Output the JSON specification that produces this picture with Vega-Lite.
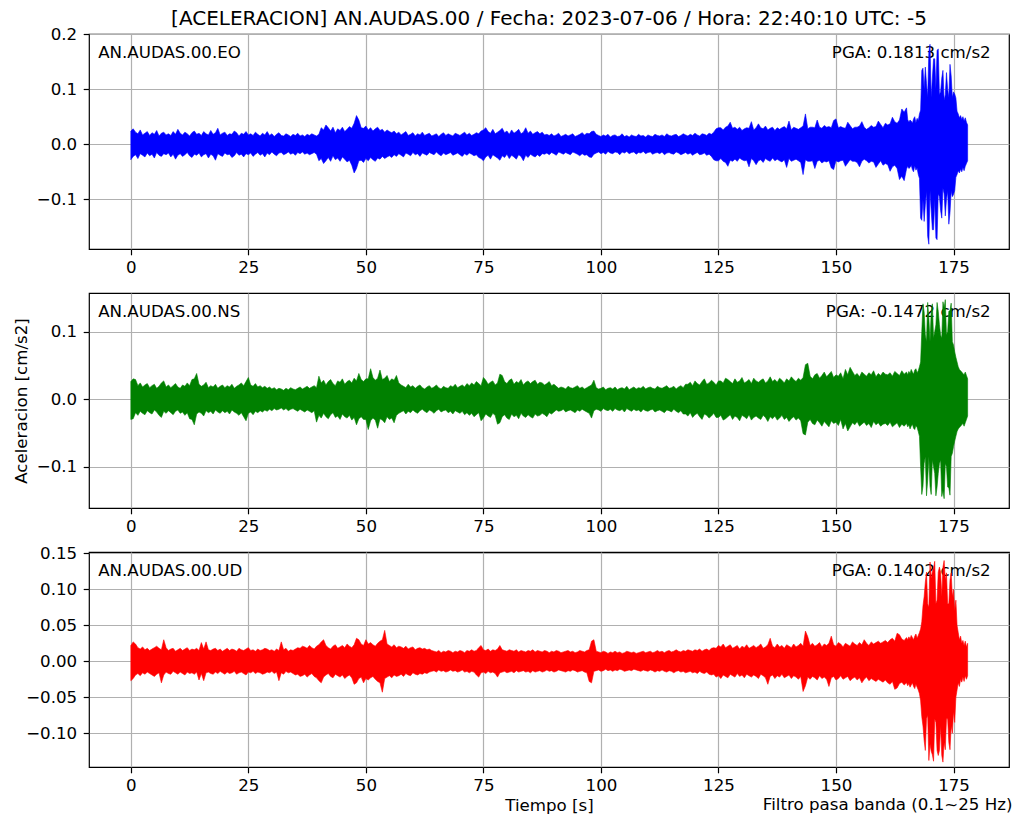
{
"$schema":"https://vega.github.io/schema/vega-lite/v6.json",
"background":"white",
"padding":{"left":12,"top":8,"right":0,"bottom":0},
"config":{
 "font":"DejaVu Sans",
 "view":{"stroke":"#000000","strokeWidth":1.2},
 "axis":{"domain":false,"grid":true,"gridColor":"#b0b0b0","gridWidth":1.2,"gridOpacity":1,"tickColor":"#000000","tickWidth":1.2,"tickSize":5.8,"labelFont":"DejaVu Sans","labelFontSize":16.67,"labelColor":"#000000","titleFont":"DejaVu Sans","titleFontSize":16.67,"titleFontWeight":"normal","titleColor":"#000000","labelFlush":false,"labelOverlap":false},
 "axisX":{"labelPadding":4.2},
 "axisY":{"labelPadding":6.5},
 "text":{"font":"DejaVu Sans"}
},
"datasets":{"wave":[
{"t":0,"eh":0.024,"el":-0.028,"nh":0.026,"nl":-0.030,"uh":0.022,"ul":-0.027},
{"t":0.5,"eh":0.028,"el":-0.022,"nh":0.030,"nl":-0.029,"uh":0.027,"ul":-0.024},
{"t":1,"eh":0.022,"el":-0.019,"nh":0.029,"nl":-0.020,"uh":0.024,"ul":-0.019},
{"t":1.5,"eh":0.019,"el":-0.026,"nh":0.020,"nl":-0.024,"uh":0.019,"ul":-0.017},
{"t":2,"eh":0.026,"el":-0.017,"nh":0.024,"nl":-0.018,"uh":0.017,"ul":-0.020},
{"t":2.5,"eh":0.017,"el":-0.020,"nh":0.018,"nl":-0.021,"uh":0.020,"ul":-0.016},
{"t":3,"eh":0.020,"el":-0.023,"nh":0.021,"nl":-0.023,"uh":0.016,"ul":-0.018},
{"t":3.5,"eh":0.023,"el":-0.016,"nh":0.023,"nl":-0.017,"uh":0.018,"ul":-0.015},
{"t":4,"eh":0.016,"el":-0.021,"nh":0.017,"nl":-0.020,"uh":0.015,"ul":-0.017},
{"t":4.5,"eh":0.021,"el":-0.018,"nh":0.020,"nl":-0.022,"uh":0.017,"ul":-0.019},
{"t":5,"eh":0.018,"el":-0.025,"nh":0.022,"nl":-0.016,"uh":0.019,"ul":-0.021},
{"t":5.5,"eh":0.025,"el":-0.015,"nh":0.016,"nl":-0.019,"uh":0.021,"ul":-0.018},
{"t":6,"eh":0.015,"el":-0.020,"nh":0.019,"nl":-0.024,"uh":0.018,"ul":-0.016},
{"t":6.5,"eh":0.020,"el":-0.022,"nh":0.024,"nl":-0.027,"uh":0.016,"ul":-0.030},
{"t":7,"eh":0.022,"el":-0.017,"nh":0.027,"nl":-0.018,"uh":0.030,"ul":-0.019},
{"t":7.5,"eh":0.017,"el":-0.019,"nh":0.018,"nl":-0.021,"uh":0.019,"ul":-0.015},
{"t":8,"eh":0.019,"el":-0.016,"nh":0.021,"nl":-0.017,"uh":0.015,"ul":-0.017},
{"t":8.5,"eh":0.016,"el":-0.023,"nh":0.017,"nl":-0.020,"uh":0.017,"ul":-0.018},
{"t":9,"eh":0.023,"el":-0.018,"nh":0.020,"nl":-0.023,"uh":0.018,"ul":-0.014},
{"t":9.5,"eh":0.018,"el":-0.027,"nh":0.023,"nl":-0.018,"uh":0.014,"ul":-0.016},
{"t":10,"eh":0.027,"el":-0.020,"nh":0.018,"nl":-0.016,"uh":0.016,"ul":-0.018},
{"t":10.5,"eh":0.020,"el":-0.017,"nh":0.016,"nl":-0.021,"uh":0.018,"ul":-0.015},
{"t":11,"eh":0.017,"el":-0.022,"nh":0.021,"nl":-0.019,"uh":0.015,"ul":-0.017},
{"t":11.5,"eh":0.022,"el":-0.019,"nh":0.019,"nl":-0.024,"uh":0.017,"ul":-0.019},
{"t":12,"eh":0.019,"el":-0.015,"nh":0.024,"nl":-0.020,"uh":0.019,"ul":-0.015},
{"t":12.5,"eh":0.015,"el":-0.021,"nh":0.020,"nl":-0.029,"uh":0.015,"ul":-0.017},
{"t":13,"eh":0.021,"el":-0.024,"nh":0.029,"nl":-0.030,"uh":0.017,"ul":-0.016},
{"t":13.5,"eh":0.024,"el":-0.018,"nh":0.030,"nl":-0.038,"uh":0.016,"ul":-0.018},
{"t":14,"eh":0.018,"el":-0.020,"nh":0.038,"nl":-0.022,"uh":0.018,"ul":-0.015},
{"t":14.5,"eh":0.020,"el":-0.016,"nh":0.022,"nl":-0.019,"uh":0.015,"ul":-0.026},
{"t":15,"eh":0.016,"el":-0.023,"nh":0.019,"nl":-0.021,"uh":0.026,"ul":-0.017},
{"t":15.5,"eh":0.023,"el":-0.019,"nh":0.021,"nl":-0.025,"uh":0.017,"ul":-0.027},
{"t":16,"eh":0.019,"el":-0.017,"nh":0.025,"nl":-0.017,"uh":0.027,"ul":-0.016},
{"t":16.5,"eh":0.017,"el":-0.025,"nh":0.017,"nl":-0.020,"uh":0.016,"ul":-0.015},
{"t":17,"eh":0.025,"el":-0.018,"nh":0.020,"nl":-0.018,"uh":0.015,"ul":-0.017},
{"t":17.5,"eh":0.018,"el":-0.021,"nh":0.018,"nl":-0.022,"uh":0.017,"ul":-0.018},
{"t":18,"eh":0.021,"el":-0.029,"nh":0.022,"nl":-0.016,"uh":0.018,"ul":-0.015},
{"t":18.5,"eh":0.029,"el":-0.017,"nh":0.016,"nl":-0.019,"uh":0.015,"ul":-0.017},
{"t":19,"eh":0.017,"el":-0.020,"nh":0.019,"nl":-0.021,"uh":0.017,"ul":-0.014},
{"t":19.5,"eh":0.020,"el":-0.022,"nh":0.021,"nl":-0.017,"uh":0.014,"ul":-0.016},
{"t":20,"eh":0.022,"el":-0.016,"nh":0.017,"nl":-0.020,"uh":0.016,"ul":-0.018},
{"t":20.5,"eh":0.016,"el":-0.019,"nh":0.020,"nl":-0.018,"uh":0.018,"ul":-0.015},
{"t":21,"eh":0.019,"el":-0.018,"nh":0.018,"nl":-0.022,"uh":0.015,"ul":-0.017},
{"t":21.5,"eh":0.018,"el":-0.024,"nh":0.022,"nl":-0.016,"uh":0.017,"ul":-0.016},
{"t":22,"eh":0.024,"el":-0.021,"nh":0.016,"nl":-0.019,"uh":0.016,"ul":-0.014},
{"t":22.5,"eh":0.021,"el":-0.015,"nh":0.019,"nl":-0.021,"uh":0.014,"ul":-0.018},
{"t":23,"eh":0.015,"el":-0.020,"nh":0.021,"nl":-0.024,"uh":0.018,"ul":-0.016},
{"t":23.5,"eh":0.020,"el":-0.018,"nh":0.024,"nl":-0.020,"uh":0.016,"ul":-0.015},
{"t":24,"eh":0.018,"el":-0.023,"nh":0.020,"nl":-0.026,"uh":0.015,"ul":-0.017},
{"t":24.5,"eh":0.023,"el":-0.017,"nh":0.026,"nl":-0.032,"uh":0.017,"ul":-0.019},
{"t":25,"eh":0.017,"el":-0.019,"nh":0.032,"nl":-0.021,"uh":0.019,"ul":-0.015},
{"t":25.5,"eh":0.019,"el":-0.016,"nh":0.021,"nl":-0.019,"uh":0.015,"ul":-0.016},
{"t":26,"eh":0.016,"el":-0.022,"nh":0.019,"nl":-0.023,"uh":0.016,"ul":-0.014},
{"t":26.5,"eh":0.022,"el":-0.018,"nh":0.023,"nl":-0.018,"uh":0.014,"ul":-0.017},
{"t":27,"eh":0.018,"el":-0.015,"nh":0.018,"nl":-0.020,"uh":0.017,"ul":-0.015},
{"t":27.5,"eh":0.015,"el":-0.020,"nh":0.020,"nl":-0.017,"uh":0.015,"ul":-0.016},
{"t":28,"eh":0.020,"el":-0.017,"nh":0.017,"nl":-0.019,"uh":0.016,"ul":-0.018},
{"t":28.5,"eh":0.017,"el":-0.023,"nh":0.019,"nl":-0.016,"uh":0.018,"ul":-0.017},
{"t":29,"eh":0.023,"el":-0.016,"nh":0.016,"nl":-0.018,"uh":0.017,"ul":-0.015},
{"t":29.5,"eh":0.016,"el":-0.019,"nh":0.018,"nl":-0.015,"uh":0.015,"ul":-0.016},
{"t":30,"eh":0.019,"el":-0.014,"nh":0.015,"nl":-0.017,"uh":0.016,"ul":-0.014},
{"t":30.5,"eh":0.014,"el":-0.018,"nh":0.017,"nl":-0.014,"uh":0.014,"ul":-0.017},
{"t":31,"eh":0.018,"el":-0.021,"nh":0.014,"nl":-0.016,"uh":0.017,"ul":-0.015},
{"t":31.5,"eh":0.021,"el":-0.016,"nh":0.016,"nl":-0.015,"uh":0.015,"ul":-0.027},
{"t":32,"eh":0.016,"el":-0.015,"nh":0.015,"nl":-0.013,"uh":0.027,"ul":-0.016},
{"t":32.5,"eh":0.015,"el":-0.019,"nh":0.013,"nl":-0.016,"uh":0.016,"ul":-0.018},
{"t":33,"eh":0.019,"el":-0.017,"nh":0.016,"nl":-0.014,"uh":0.018,"ul":-0.014},
{"t":33.5,"eh":0.017,"el":-0.014,"nh":0.014,"nl":-0.017,"uh":0.014,"ul":-0.016},
{"t":34,"eh":0.014,"el":-0.018,"nh":0.017,"nl":-0.015,"uh":0.016,"ul":-0.015},
{"t":34.5,"eh":0.018,"el":-0.016,"nh":0.015,"nl":-0.014,"uh":0.015,"ul":-0.017},
{"t":35,"eh":0.016,"el":-0.020,"nh":0.014,"nl":-0.016,"uh":0.017,"ul":-0.019},
{"t":35.5,"eh":0.020,"el":-0.015,"nh":0.016,"nl":-0.018,"uh":0.019,"ul":-0.018},
{"t":36,"eh":0.015,"el":-0.017,"nh":0.018,"nl":-0.015,"uh":0.018,"ul":-0.021},
{"t":36.5,"eh":0.017,"el":-0.014,"nh":0.015,"nl":-0.017,"uh":0.021,"ul":-0.020},
{"t":37,"eh":0.014,"el":-0.018,"nh":0.017,"nl":-0.019,"uh":0.020,"ul":-0.018},
{"t":37.5,"eh":0.018,"el":-0.016,"nh":0.019,"nl":-0.016,"uh":0.018,"ul":-0.022},
{"t":38,"eh":0.016,"el":-0.019,"nh":0.016,"nl":-0.018,"uh":0.022,"ul":-0.019},
{"t":38.5,"eh":0.019,"el":-0.017,"nh":0.018,"nl":-0.020,"uh":0.019,"ul":-0.017},
{"t":39,"eh":0.017,"el":-0.015,"nh":0.020,"nl":-0.017,"uh":0.017,"ul":-0.021},
{"t":39.5,"eh":0.015,"el":-0.018,"nh":0.017,"nl":-0.034,"uh":0.021,"ul":-0.023},
{"t":40,"eh":0.018,"el":-0.030,"nh":0.034,"nl":-0.024,"uh":0.023,"ul":-0.027},
{"t":40.5,"eh":0.030,"el":-0.026,"nh":0.024,"nl":-0.028,"uh":0.027,"ul":-0.030},
{"t":41,"eh":0.026,"el":-0.035,"nh":0.028,"nl":-0.021,"uh":0.030,"ul":-0.022},
{"t":41.5,"eh":0.035,"el":-0.030,"nh":0.021,"nl":-0.026,"uh":0.022,"ul":-0.019},
{"t":42,"eh":0.030,"el":-0.024,"nh":0.026,"nl":-0.029,"uh":0.019,"ul":-0.017},
{"t":42.5,"eh":0.024,"el":-0.031,"nh":0.029,"nl":-0.023,"uh":0.017,"ul":-0.021},
{"t":43,"eh":0.031,"el":-0.021,"nh":0.023,"nl":-0.020,"uh":0.021,"ul":-0.023},
{"t":43.5,"eh":0.021,"el":-0.028,"nh":0.020,"nl":-0.027,"uh":0.023,"ul":-0.018},
{"t":44,"eh":0.028,"el":-0.025,"nh":0.027,"nl":-0.025,"uh":0.018,"ul":-0.020},
{"t":44.5,"eh":0.025,"el":-0.031,"nh":0.025,"nl":-0.030,"uh":0.020,"ul":-0.022},
{"t":45,"eh":0.031,"el":-0.023,"nh":0.030,"nl":-0.022,"uh":0.022,"ul":-0.019},
{"t":45.5,"eh":0.023,"el":-0.027,"nh":0.022,"nl":-0.026,"uh":0.019,"ul":-0.024},
{"t":46,"eh":0.027,"el":-0.032,"nh":0.026,"nl":-0.028,"uh":0.024,"ul":-0.021},
{"t":46.5,"eh":0.032,"el":-0.029,"nh":0.028,"nl":-0.024,"uh":0.021,"ul":-0.019},
{"t":47,"eh":0.029,"el":-0.038,"nh":0.024,"nl":-0.031,"uh":0.019,"ul":-0.023},
{"t":47.5,"eh":0.038,"el":-0.052,"nh":0.031,"nl":-0.027,"uh":0.023,"ul":-0.032},
{"t":48,"eh":0.052,"el":-0.044,"nh":0.027,"nl":-0.038,"uh":0.032,"ul":-0.030},
{"t":48.5,"eh":0.044,"el":-0.030,"nh":0.038,"nl":-0.029,"uh":0.030,"ul":-0.024},
{"t":49,"eh":0.030,"el":-0.029,"nh":0.029,"nl":-0.026,"uh":0.024,"ul":-0.022},
{"t":49.5,"eh":0.029,"el":-0.033,"nh":0.026,"nl":-0.030,"uh":0.022,"ul":-0.030},
{"t":50,"eh":0.033,"el":-0.026,"nh":0.030,"nl":-0.030,"uh":0.030,"ul":-0.024},
{"t":50.5,"eh":0.026,"el":-0.030,"nh":0.030,"nl":-0.045,"uh":0.024,"ul":-0.026},
{"t":51,"eh":0.030,"el":-0.024,"nh":0.045,"nl":-0.032,"uh":0.026,"ul":-0.023},
{"t":51.5,"eh":0.024,"el":-0.028,"nh":0.032,"nl":-0.028,"uh":0.023,"ul":-0.021},
{"t":52,"eh":0.028,"el":-0.031,"nh":0.028,"nl":-0.031,"uh":0.021,"ul":-0.025},
{"t":52.5,"eh":0.031,"el":-0.025,"nh":0.031,"nl":-0.043,"uh":0.025,"ul":-0.028},
{"t":53,"eh":0.025,"el":-0.027,"nh":0.043,"nl":-0.029,"uh":0.028,"ul":-0.030},
{"t":53.5,"eh":0.027,"el":-0.022,"nh":0.029,"nl":-0.031,"uh":0.030,"ul":-0.043},
{"t":54,"eh":0.022,"el":-0.026,"nh":0.031,"nl":-0.035,"uh":0.043,"ul":-0.024},
{"t":54.5,"eh":0.026,"el":-0.023,"nh":0.035,"nl":-0.026,"uh":0.024,"ul":-0.022},
{"t":55,"eh":0.023,"el":-0.021,"nh":0.026,"nl":-0.030,"uh":0.022,"ul":-0.020},
{"t":55.5,"eh":0.021,"el":-0.024,"nh":0.030,"nl":-0.028,"uh":0.020,"ul":-0.023},
{"t":56,"eh":0.024,"el":-0.019,"nh":0.028,"nl":-0.035,"uh":0.023,"ul":-0.019},
{"t":56.5,"eh":0.019,"el":-0.022,"nh":0.035,"nl":-0.024,"uh":0.019,"ul":-0.021},
{"t":57,"eh":0.022,"el":-0.017,"nh":0.024,"nl":-0.021,"uh":0.021,"ul":-0.020},
{"t":57.5,"eh":0.017,"el":-0.020,"nh":0.021,"nl":-0.019,"uh":0.020,"ul":-0.018},
{"t":58,"eh":0.020,"el":-0.023,"nh":0.019,"nl":-0.017,"uh":0.018,"ul":-0.021},
{"t":58.5,"eh":0.023,"el":-0.016,"nh":0.017,"nl":-0.022,"uh":0.021,"ul":-0.017},
{"t":59,"eh":0.016,"el":-0.018,"nh":0.022,"nl":-0.018,"uh":0.017,"ul":-0.019},
{"t":59.5,"eh":0.018,"el":-0.021,"nh":0.018,"nl":-0.020,"uh":0.019,"ul":-0.020},
{"t":60,"eh":0.021,"el":-0.015,"nh":0.020,"nl":-0.016,"uh":0.020,"ul":-0.016},
{"t":60.5,"eh":0.015,"el":-0.019,"nh":0.016,"nl":-0.019,"uh":0.016,"ul":-0.018},
{"t":61,"eh":0.019,"el":-0.017,"nh":0.019,"nl":-0.021,"uh":0.018,"ul":-0.019},
{"t":61.5,"eh":0.017,"el":-0.022,"nh":0.021,"nl":-0.017,"uh":0.019,"ul":-0.017},
{"t":62,"eh":0.022,"el":-0.016,"nh":0.017,"nl":-0.015,"uh":0.017,"ul":-0.018},
{"t":62.5,"eh":0.016,"el":-0.018,"nh":0.015,"nl":-0.018,"uh":0.018,"ul":-0.016},
{"t":63,"eh":0.018,"el":-0.020,"nh":0.018,"nl":-0.020,"uh":0.016,"ul":-0.017},
{"t":63.5,"eh":0.020,"el":-0.015,"nh":0.020,"nl":-0.016,"uh":0.017,"ul":-0.015},
{"t":64,"eh":0.015,"el":-0.017,"nh":0.016,"nl":-0.018,"uh":0.015,"ul":-0.014},
{"t":64.5,"eh":0.017,"el":-0.019,"nh":0.018,"nl":-0.021,"uh":0.014,"ul":-0.013},
{"t":65,"eh":0.019,"el":-0.014,"nh":0.021,"nl":-0.017,"uh":0.013,"ul":-0.015},
{"t":65.5,"eh":0.014,"el":-0.018,"nh":0.017,"nl":-0.015,"uh":0.015,"ul":-0.012},
{"t":66,"eh":0.018,"el":-0.021,"nh":0.015,"nl":-0.019,"uh":0.012,"ul":-0.014},
{"t":66.5,"eh":0.021,"el":-0.016,"nh":0.019,"nl":-0.017,"uh":0.014,"ul":-0.013},
{"t":67,"eh":0.016,"el":-0.019,"nh":0.017,"nl":-0.016,"uh":0.013,"ul":-0.015},
{"t":67.5,"eh":0.019,"el":-0.017,"nh":0.016,"nl":-0.020,"uh":0.015,"ul":-0.014},
{"t":68,"eh":0.017,"el":-0.015,"nh":0.020,"nl":-0.018,"uh":0.014,"ul":-0.012},
{"t":68.5,"eh":0.015,"el":-0.020,"nh":0.018,"nl":-0.022,"uh":0.012,"ul":-0.014},
{"t":69,"eh":0.020,"el":-0.018,"nh":0.022,"nl":-0.017,"uh":0.014,"ul":-0.013},
{"t":69.5,"eh":0.018,"el":-0.016,"nh":0.017,"nl":-0.019,"uh":0.013,"ul":-0.015},
{"t":70,"eh":0.016,"el":-0.019,"nh":0.019,"nl":-0.021,"uh":0.015,"ul":-0.014},
{"t":70.5,"eh":0.019,"el":-0.022,"nh":0.021,"nl":-0.018,"uh":0.014,"ul":-0.012},
{"t":71,"eh":0.022,"el":-0.017,"nh":0.018,"nl":-0.023,"uh":0.012,"ul":-0.015},
{"t":71.5,"eh":0.017,"el":-0.020,"nh":0.023,"nl":-0.020,"uh":0.015,"ul":-0.014},
{"t":72,"eh":0.020,"el":-0.016,"nh":0.020,"nl":-0.024,"uh":0.014,"ul":-0.016},
{"t":72.5,"eh":0.016,"el":-0.018,"nh":0.024,"nl":-0.021,"uh":0.016,"ul":-0.014},
{"t":73,"eh":0.018,"el":-0.021,"nh":0.021,"nl":-0.026,"uh":0.014,"ul":-0.015},
{"t":73.5,"eh":0.021,"el":-0.019,"nh":0.026,"nl":-0.023,"uh":0.015,"ul":-0.019},
{"t":74,"eh":0.019,"el":-0.024,"nh":0.023,"nl":-0.020,"uh":0.019,"ul":-0.022},
{"t":74.5,"eh":0.024,"el":-0.026,"nh":0.020,"nl":-0.032,"uh":0.022,"ul":-0.016},
{"t":75,"eh":0.026,"el":-0.030,"nh":0.032,"nl":-0.028,"uh":0.016,"ul":-0.015},
{"t":75.5,"eh":0.030,"el":-0.023,"nh":0.028,"nl":-0.022,"uh":0.015,"ul":-0.017},
{"t":76,"eh":0.023,"el":-0.020,"nh":0.022,"nl":-0.025,"uh":0.017,"ul":-0.014},
{"t":76.5,"eh":0.020,"el":-0.027,"nh":0.025,"nl":-0.027,"uh":0.014,"ul":-0.016},
{"t":77,"eh":0.027,"el":-0.019,"nh":0.027,"nl":-0.021,"uh":0.016,"ul":-0.015},
{"t":77.5,"eh":0.019,"el":-0.022,"nh":0.021,"nl":-0.024,"uh":0.015,"ul":-0.017},
{"t":78,"eh":0.022,"el":-0.025,"nh":0.024,"nl":-0.037,"uh":0.017,"ul":-0.022},
{"t":78.5,"eh":0.025,"el":-0.029,"nh":0.037,"nl":-0.035,"uh":0.022,"ul":-0.016},
{"t":79,"eh":0.029,"el":-0.021,"nh":0.035,"nl":-0.026,"uh":0.016,"ul":-0.015},
{"t":79.5,"eh":0.021,"el":-0.024,"nh":0.026,"nl":-0.023,"uh":0.015,"ul":-0.014},
{"t":80,"eh":0.024,"el":-0.018,"nh":0.023,"nl":-0.028,"uh":0.014,"ul":-0.016},
{"t":80.5,"eh":0.018,"el":-0.026,"nh":0.028,"nl":-0.030,"uh":0.016,"ul":-0.015},
{"t":81,"eh":0.026,"el":-0.020,"nh":0.030,"nl":-0.022,"uh":0.015,"ul":-0.014},
{"t":81.5,"eh":0.020,"el":-0.023,"nh":0.022,"nl":-0.026,"uh":0.014,"ul":-0.016},
{"t":82,"eh":0.023,"el":-0.027,"nh":0.026,"nl":-0.024,"uh":0.016,"ul":-0.013},
{"t":82.5,"eh":0.027,"el":-0.019,"nh":0.024,"nl":-0.029,"uh":0.013,"ul":-0.015},
{"t":83,"eh":0.019,"el":-0.022,"nh":0.029,"nl":-0.021,"uh":0.015,"ul":-0.014},
{"t":83.5,"eh":0.022,"el":-0.030,"nh":0.021,"nl":-0.025,"uh":0.014,"ul":-0.013},
{"t":84,"eh":0.030,"el":-0.020,"nh":0.025,"nl":-0.027,"uh":0.013,"ul":-0.015},
{"t":84.5,"eh":0.020,"el":-0.024,"nh":0.027,"nl":-0.023,"uh":0.015,"ul":-0.014},
{"t":85,"eh":0.024,"el":-0.018,"nh":0.023,"nl":-0.026,"uh":0.014,"ul":-0.016},
{"t":85.5,"eh":0.018,"el":-0.021,"nh":0.026,"nl":-0.028,"uh":0.016,"ul":-0.013},
{"t":86,"eh":0.021,"el":-0.023,"nh":0.028,"nl":-0.022,"uh":0.013,"ul":-0.015},
{"t":86.5,"eh":0.023,"el":-0.019,"nh":0.022,"nl":-0.025,"uh":0.015,"ul":-0.014},
{"t":87,"eh":0.019,"el":-0.022,"nh":0.025,"nl":-0.024,"uh":0.014,"ul":-0.013},
{"t":87.5,"eh":0.022,"el":-0.017,"nh":0.024,"nl":-0.021,"uh":0.013,"ul":-0.015},
{"t":88,"eh":0.017,"el":-0.018,"nh":0.021,"nl":-0.023,"uh":0.015,"ul":-0.014},
{"t":88.5,"eh":0.018,"el":-0.016,"nh":0.023,"nl":-0.026,"uh":0.014,"ul":-0.012},
{"t":89,"eh":0.016,"el":-0.019,"nh":0.026,"nl":-0.020,"uh":0.012,"ul":-0.014},
{"t":89.5,"eh":0.019,"el":-0.015,"nh":0.020,"nl":-0.022,"uh":0.014,"ul":-0.013},
{"t":90,"eh":0.015,"el":-0.017,"nh":0.022,"nl":-0.019,"uh":0.013,"ul":-0.015},
{"t":90.5,"eh":0.017,"el":-0.020,"nh":0.019,"nl":-0.016,"uh":0.015,"ul":-0.014},
{"t":91,"eh":0.020,"el":-0.014,"nh":0.016,"nl":-0.018,"uh":0.014,"ul":-0.012},
{"t":91.5,"eh":0.014,"el":-0.016,"nh":0.018,"nl":-0.017,"uh":0.012,"ul":-0.013},
{"t":92,"eh":0.016,"el":-0.018,"nh":0.017,"nl":-0.015,"uh":0.013,"ul":-0.014},
{"t":92.5,"eh":0.018,"el":-0.015,"nh":0.015,"nl":-0.019,"uh":0.014,"ul":-0.015},
{"t":93,"eh":0.015,"el":-0.017,"nh":0.019,"nl":-0.017,"uh":0.015,"ul":-0.013},
{"t":93.5,"eh":0.017,"el":-0.019,"nh":0.017,"nl":-0.016,"uh":0.013,"ul":-0.014},
{"t":94,"eh":0.019,"el":-0.014,"nh":0.016,"nl":-0.018,"uh":0.014,"ul":-0.012},
{"t":94.5,"eh":0.014,"el":-0.016,"nh":0.018,"nl":-0.020,"uh":0.012,"ul":-0.013},
{"t":95,"eh":0.016,"el":-0.018,"nh":0.020,"nl":-0.016,"uh":0.013,"ul":-0.015},
{"t":95.5,"eh":0.018,"el":-0.021,"nh":0.016,"nl":-0.018,"uh":0.015,"ul":-0.014},
{"t":96,"eh":0.021,"el":-0.017,"nh":0.018,"nl":-0.015,"uh":0.014,"ul":-0.013},
{"t":96.5,"eh":0.017,"el":-0.020,"nh":0.015,"nl":-0.017,"uh":0.013,"ul":-0.015},
{"t":97,"eh":0.020,"el":-0.019,"nh":0.017,"nl":-0.019,"uh":0.015,"ul":-0.016},
{"t":97.5,"eh":0.019,"el":-0.023,"nh":0.019,"nl":-0.021,"uh":0.016,"ul":-0.028},
{"t":98,"eh":0.023,"el":-0.024,"nh":0.021,"nl":-0.028,"uh":0.028,"ul":-0.030},
{"t":98.5,"eh":0.024,"el":-0.018,"nh":0.028,"nl":-0.017,"uh":0.030,"ul":-0.014},
{"t":99,"eh":0.018,"el":-0.016,"nh":0.017,"nl":-0.015,"uh":0.014,"ul":-0.013},
{"t":99.5,"eh":0.016,"el":-0.014,"nh":0.015,"nl":-0.016,"uh":0.013,"ul":-0.012},
{"t":100,"eh":0.014,"el":-0.017,"nh":0.016,"nl":-0.018,"uh":0.012,"ul":-0.014},
{"t":100.5,"eh":0.017,"el":-0.015,"nh":0.018,"nl":-0.014,"uh":0.014,"ul":-0.013},
{"t":101,"eh":0.015,"el":-0.018,"nh":0.014,"nl":-0.016,"uh":0.013,"ul":-0.011},
{"t":101.5,"eh":0.018,"el":-0.013,"nh":0.016,"nl":-0.017,"uh":0.011,"ul":-0.013},
{"t":102,"eh":0.013,"el":-0.016,"nh":0.017,"nl":-0.015,"uh":0.013,"ul":-0.012},
{"t":102.5,"eh":0.016,"el":-0.017,"nh":0.015,"nl":-0.018,"uh":0.012,"ul":-0.014},
{"t":103,"eh":0.017,"el":-0.014,"nh":0.018,"nl":-0.014,"uh":0.014,"ul":-0.012},
{"t":103.5,"eh":0.014,"el":-0.015,"nh":0.014,"nl":-0.016,"uh":0.012,"ul":-0.013},
{"t":104,"eh":0.015,"el":-0.019,"nh":0.016,"nl":-0.017,"uh":0.013,"ul":-0.011},
{"t":104.5,"eh":0.019,"el":-0.014,"nh":0.017,"nl":-0.015,"uh":0.011,"ul":-0.012},
{"t":105,"eh":0.014,"el":-0.016,"nh":0.015,"nl":-0.019,"uh":0.012,"ul":-0.014},
{"t":105.5,"eh":0.016,"el":-0.013,"nh":0.019,"nl":-0.014,"uh":0.014,"ul":-0.013},
{"t":106,"eh":0.013,"el":-0.017,"nh":0.014,"nl":-0.016,"uh":0.013,"ul":-0.012},
{"t":106.5,"eh":0.017,"el":-0.015,"nh":0.016,"nl":-0.018,"uh":0.012,"ul":-0.013},
{"t":107,"eh":0.015,"el":-0.014,"nh":0.018,"nl":-0.015,"uh":0.013,"ul":-0.011},
{"t":107.5,"eh":0.014,"el":-0.018,"nh":0.015,"nl":-0.017,"uh":0.011,"ul":-0.012},
{"t":108,"eh":0.018,"el":-0.015,"nh":0.017,"nl":-0.016,"uh":0.012,"ul":-0.013},
{"t":108.5,"eh":0.015,"el":-0.016,"nh":0.016,"nl":-0.019,"uh":0.013,"ul":-0.014},
{"t":109,"eh":0.016,"el":-0.013,"nh":0.019,"nl":-0.015,"uh":0.014,"ul":-0.012},
{"t":109.5,"eh":0.013,"el":-0.017,"nh":0.015,"nl":-0.017,"uh":0.012,"ul":-0.013},
{"t":110,"eh":0.017,"el":-0.015,"nh":0.017,"nl":-0.018,"uh":0.013,"ul":-0.014},
{"t":110.5,"eh":0.015,"el":-0.014,"nh":0.018,"nl":-0.016,"uh":0.014,"ul":-0.012},
{"t":111,"eh":0.014,"el":-0.018,"nh":0.016,"nl":-0.015,"uh":0.012,"ul":-0.013},
{"t":111.5,"eh":0.018,"el":-0.016,"nh":0.015,"nl":-0.019,"uh":0.013,"ul":-0.015},
{"t":112,"eh":0.016,"el":-0.015,"nh":0.019,"nl":-0.017,"uh":0.015,"ul":-0.013},
{"t":112.5,"eh":0.015,"el":-0.017,"nh":0.017,"nl":-0.016,"uh":0.013,"ul":-0.014},
{"t":113,"eh":0.017,"el":-0.014,"nh":0.016,"nl":-0.018,"uh":0.014,"ul":-0.012},
{"t":113.5,"eh":0.014,"el":-0.019,"nh":0.018,"nl":-0.020,"uh":0.012,"ul":-0.014},
{"t":114,"eh":0.019,"el":-0.016,"nh":0.020,"nl":-0.016,"uh":0.014,"ul":-0.015},
{"t":114.5,"eh":0.016,"el":-0.015,"nh":0.016,"nl":-0.017,"uh":0.015,"ul":-0.013},
{"t":115,"eh":0.015,"el":-0.017,"nh":0.017,"nl":-0.019,"uh":0.013,"ul":-0.014},
{"t":115.5,"eh":0.017,"el":-0.018,"nh":0.019,"nl":-0.015,"uh":0.014,"ul":-0.016},
{"t":116,"eh":0.018,"el":-0.014,"nh":0.015,"nl":-0.018,"uh":0.016,"ul":-0.014},
{"t":116.5,"eh":0.014,"el":-0.016,"nh":0.018,"nl":-0.020,"uh":0.014,"ul":-0.013},
{"t":117,"eh":0.016,"el":-0.019,"nh":0.020,"nl":-0.017,"uh":0.013,"ul":-0.015},
{"t":117.5,"eh":0.019,"el":-0.017,"nh":0.017,"nl":-0.022,"uh":0.015,"ul":-0.014},
{"t":118,"eh":0.017,"el":-0.015,"nh":0.022,"nl":-0.022,"uh":0.014,"ul":-0.016},
{"t":118.5,"eh":0.015,"el":-0.018,"nh":0.022,"nl":-0.025,"uh":0.016,"ul":-0.015},
{"t":119,"eh":0.018,"el":-0.016,"nh":0.025,"nl":-0.020,"uh":0.015,"ul":-0.014},
{"t":119.5,"eh":0.016,"el":-0.020,"nh":0.020,"nl":-0.027,"uh":0.014,"ul":-0.016},
{"t":120,"eh":0.020,"el":-0.017,"nh":0.027,"nl":-0.023,"uh":0.016,"ul":-0.015},
{"t":120.5,"eh":0.017,"el":-0.015,"nh":0.023,"nl":-0.021,"uh":0.015,"ul":-0.017},
{"t":121,"eh":0.015,"el":-0.019,"nh":0.021,"nl":-0.026,"uh":0.017,"ul":-0.014},
{"t":121.5,"eh":0.019,"el":-0.018,"nh":0.026,"nl":-0.030,"uh":0.014,"ul":-0.016},
{"t":122,"eh":0.018,"el":-0.016,"nh":0.030,"nl":-0.022,"uh":0.016,"ul":-0.017},
{"t":122.5,"eh":0.016,"el":-0.020,"nh":0.022,"nl":-0.024,"uh":0.017,"ul":-0.015},
{"t":123,"eh":0.020,"el":-0.018,"nh":0.024,"nl":-0.028,"uh":0.015,"ul":-0.018},
{"t":123.5,"eh":0.018,"el":-0.022,"nh":0.028,"nl":-0.025,"uh":0.018,"ul":-0.019},
{"t":124,"eh":0.022,"el":-0.028,"nh":0.025,"nl":-0.021,"uh":0.019,"ul":-0.018},
{"t":124.5,"eh":0.028,"el":-0.030,"nh":0.021,"nl":-0.027,"uh":0.018,"ul":-0.022},
{"t":125,"eh":0.030,"el":-0.030,"nh":0.027,"nl":-0.027,"uh":0.022,"ul":-0.020},
{"t":125.5,"eh":0.030,"el":-0.026,"nh":0.027,"nl":-0.024,"uh":0.020,"ul":-0.024},
{"t":126,"eh":0.026,"el":-0.031,"nh":0.024,"nl":-0.031,"uh":0.024,"ul":-0.019},
{"t":126.5,"eh":0.031,"el":-0.033,"nh":0.031,"nl":-0.029,"uh":0.019,"ul":-0.021},
{"t":127,"eh":0.033,"el":-0.040,"nh":0.029,"nl":-0.026,"uh":0.021,"ul":-0.023},
{"t":127.5,"eh":0.040,"el":-0.029,"nh":0.026,"nl":-0.023,"uh":0.023,"ul":-0.018},
{"t":128,"eh":0.029,"el":-0.031,"nh":0.023,"nl":-0.030,"uh":0.018,"ul":-0.020},
{"t":128.5,"eh":0.031,"el":-0.027,"nh":0.030,"nl":-0.025,"uh":0.020,"ul":-0.022},
{"t":129,"eh":0.027,"el":-0.031,"nh":0.025,"nl":-0.027,"uh":0.022,"ul":-0.017},
{"t":129.5,"eh":0.031,"el":-0.025,"nh":0.027,"nl":-0.032,"uh":0.017,"ul":-0.021},
{"t":130,"eh":0.025,"el":-0.028,"nh":0.032,"nl":-0.024,"uh":0.021,"ul":-0.019},
{"t":130.5,"eh":0.028,"el":-0.030,"nh":0.024,"nl":-0.026,"uh":0.019,"ul":-0.023},
{"t":131,"eh":0.030,"el":-0.029,"nh":0.026,"nl":-0.029,"uh":0.023,"ul":-0.018},
{"t":131.5,"eh":0.029,"el":-0.041,"nh":0.029,"nl":-0.023,"uh":0.018,"ul":-0.020},
{"t":132,"eh":0.041,"el":-0.026,"nh":0.023,"nl":-0.031,"uh":0.020,"ul":-0.022},
{"t":132.5,"eh":0.026,"el":-0.030,"nh":0.031,"nl":-0.027,"uh":0.022,"ul":-0.019},
{"t":133,"eh":0.030,"el":-0.037,"nh":0.027,"nl":-0.025,"uh":0.019,"ul":-0.021},
{"t":133.5,"eh":0.037,"el":-0.030,"nh":0.025,"nl":-0.028,"uh":0.021,"ul":-0.024},
{"t":134,"eh":0.030,"el":-0.028,"nh":0.028,"nl":-0.030,"uh":0.024,"ul":-0.018},
{"t":134.5,"eh":0.028,"el":-0.033,"nh":0.030,"nl":-0.024,"uh":0.018,"ul":-0.020},
{"t":135,"eh":0.033,"el":-0.026,"nh":0.024,"nl":-0.027,"uh":0.020,"ul":-0.023},
{"t":135.5,"eh":0.026,"el":-0.029,"nh":0.027,"nl":-0.033,"uh":0.023,"ul":-0.032},
{"t":136,"eh":0.029,"el":-0.031,"nh":0.033,"nl":-0.026,"uh":0.032,"ul":-0.021},
{"t":136.5,"eh":0.031,"el":-0.025,"nh":0.026,"nl":-0.029,"uh":0.021,"ul":-0.019},
{"t":137,"eh":0.025,"el":-0.030,"nh":0.029,"nl":-0.025,"uh":0.019,"ul":-0.024},
{"t":137.5,"eh":0.030,"el":-0.027,"nh":0.025,"nl":-0.031,"uh":0.024,"ul":-0.020},
{"t":138,"eh":0.027,"el":-0.030,"nh":0.031,"nl":-0.028,"uh":0.020,"ul":-0.022},
{"t":138.5,"eh":0.030,"el":-0.032,"nh":0.028,"nl":-0.024,"uh":0.022,"ul":-0.018},
{"t":139,"eh":0.032,"el":-0.028,"nh":0.024,"nl":-0.030,"uh":0.018,"ul":-0.023},
{"t":139.5,"eh":0.028,"el":-0.042,"nh":0.030,"nl":-0.027,"uh":0.023,"ul":-0.021},
{"t":140,"eh":0.042,"el":-0.026,"nh":0.027,"nl":-0.033,"uh":0.021,"ul":-0.019},
{"t":140.5,"eh":0.026,"el":-0.031,"nh":0.033,"nl":-0.029,"uh":0.019,"ul":-0.024},
{"t":141,"eh":0.031,"el":-0.029,"nh":0.029,"nl":-0.026,"uh":0.024,"ul":-0.020},
{"t":141.5,"eh":0.029,"el":-0.027,"nh":0.026,"nl":-0.031,"uh":0.020,"ul":-0.022},
{"t":142,"eh":0.027,"el":-0.030,"nh":0.031,"nl":-0.028,"uh":0.022,"ul":-0.025},
{"t":142.5,"eh":0.030,"el":-0.033,"nh":0.028,"nl":-0.032,"uh":0.025,"ul":-0.021},
{"t":143,"eh":0.033,"el":-0.055,"nh":0.032,"nl":-0.051,"uh":0.021,"ul":-0.042},
{"t":143.5,"eh":0.055,"el":-0.028,"nh":0.051,"nl":-0.053,"uh":0.042,"ul":-0.034},
{"t":144,"eh":0.028,"el":-0.031,"nh":0.053,"nl":-0.034,"uh":0.034,"ul":-0.022},
{"t":144.5,"eh":0.031,"el":-0.031,"nh":0.034,"nl":-0.030,"uh":0.022,"ul":-0.025},
{"t":145,"eh":0.031,"el":-0.030,"nh":0.030,"nl":-0.036,"uh":0.025,"ul":-0.021},
{"t":145.5,"eh":0.030,"el":-0.044,"nh":0.036,"nl":-0.038,"uh":0.021,"ul":-0.023},
{"t":146,"eh":0.044,"el":-0.031,"nh":0.038,"nl":-0.031,"uh":0.023,"ul":-0.026},
{"t":146.5,"eh":0.031,"el":-0.029,"nh":0.031,"nl":-0.035,"uh":0.026,"ul":-0.020},
{"t":147,"eh":0.029,"el":-0.034,"nh":0.035,"nl":-0.040,"uh":0.020,"ul":-0.024},
{"t":147.5,"eh":0.034,"el":-0.031,"nh":0.040,"nl":-0.033,"uh":0.024,"ul":-0.022},
{"t":148,"eh":0.031,"el":-0.032,"nh":0.033,"nl":-0.037,"uh":0.022,"ul":-0.025},
{"t":148.5,"eh":0.032,"el":-0.030,"nh":0.037,"nl":-0.041,"uh":0.025,"ul":-0.035},
{"t":149,"eh":0.030,"el":-0.043,"nh":0.041,"nl":-0.032,"uh":0.035,"ul":-0.023},
{"t":149.5,"eh":0.043,"el":-0.046,"nh":0.032,"nl":-0.036,"uh":0.023,"ul":-0.021},
{"t":150,"eh":0.046,"el":-0.030,"nh":0.036,"nl":-0.034,"uh":0.021,"ul":-0.026},
{"t":150.5,"eh":0.030,"el":-0.032,"nh":0.034,"nl":-0.039,"uh":0.026,"ul":-0.024},
{"t":151,"eh":0.032,"el":-0.030,"nh":0.039,"nl":-0.030,"uh":0.024,"ul":-0.020},
{"t":151.5,"eh":0.030,"el":-0.029,"nh":0.030,"nl":-0.044,"uh":0.020,"ul":-0.025},
{"t":152,"eh":0.029,"el":-0.040,"nh":0.044,"nl":-0.036,"uh":0.025,"ul":-0.023},
{"t":152.5,"eh":0.040,"el":-0.034,"nh":0.036,"nl":-0.047,"uh":0.023,"ul":-0.021},
{"t":153,"eh":0.034,"el":-0.028,"nh":0.047,"nl":-0.041,"uh":0.021,"ul":-0.027},
{"t":153.5,"eh":0.028,"el":-0.031,"nh":0.041,"nl":-0.035,"uh":0.027,"ul":-0.024},
{"t":154,"eh":0.031,"el":-0.031,"nh":0.035,"nl":-0.038,"uh":0.024,"ul":-0.022},
{"t":154.5,"eh":0.031,"el":-0.033,"nh":0.038,"nl":-0.033,"uh":0.022,"ul":-0.026},
{"t":155,"eh":0.033,"el":-0.041,"nh":0.033,"nl":-0.040,"uh":0.026,"ul":-0.023},
{"t":155.5,"eh":0.041,"el":-0.031,"nh":0.040,"nl":-0.037,"uh":0.023,"ul":-0.030},
{"t":156,"eh":0.031,"el":-0.027,"nh":0.037,"nl":-0.034,"uh":0.030,"ul":-0.025},
{"t":156.5,"eh":0.027,"el":-0.030,"nh":0.034,"nl":-0.039,"uh":0.025,"ul":-0.022},
{"t":157,"eh":0.030,"el":-0.034,"nh":0.039,"nl":-0.036,"uh":0.022,"ul":-0.027},
{"t":157.5,"eh":0.034,"el":-0.031,"nh":0.036,"nl":-0.042,"uh":0.027,"ul":-0.024},
{"t":158,"eh":0.031,"el":-0.032,"nh":0.042,"nl":-0.033,"uh":0.024,"ul":-0.026},
{"t":158.5,"eh":0.032,"el":-0.042,"nh":0.033,"nl":-0.038,"uh":0.026,"ul":-0.028},
{"t":159,"eh":0.042,"el":-0.036,"nh":0.038,"nl":-0.035,"uh":0.028,"ul":-0.025},
{"t":159.5,"eh":0.036,"el":-0.030,"nh":0.035,"nl":-0.040,"uh":0.025,"ul":-0.027},
{"t":160,"eh":0.030,"el":-0.038,"nh":0.040,"nl":-0.037,"uh":0.027,"ul":-0.029},
{"t":160.5,"eh":0.038,"el":-0.035,"nh":0.037,"nl":-0.036,"uh":0.029,"ul":-0.026},
{"t":161,"eh":0.035,"el":-0.037,"nh":0.036,"nl":-0.039,"uh":0.026,"ul":-0.030},
{"t":161.5,"eh":0.037,"el":-0.049,"nh":0.039,"nl":-0.034,"uh":0.030,"ul":-0.032},
{"t":162,"eh":0.049,"el":-0.041,"nh":0.034,"nl":-0.041,"uh":0.032,"ul":-0.028},
{"t":162.5,"eh":0.041,"el":-0.038,"nh":0.041,"nl":-0.038,"uh":0.028,"ul":-0.039},
{"t":163,"eh":0.038,"el":-0.044,"nh":0.038,"nl":-0.035,"uh":0.039,"ul":-0.037},
{"t":163.5,"eh":0.044,"el":-0.064,"nh":0.035,"nl":-0.042,"uh":0.037,"ul":-0.031},
{"t":164,"eh":0.064,"el":-0.058,"nh":0.042,"nl":-0.037,"uh":0.031,"ul":-0.029},
{"t":164.5,"eh":0.058,"el":-0.066,"nh":0.037,"nl":-0.040,"uh":0.029,"ul":-0.033},
{"t":165,"eh":0.066,"el":-0.045,"nh":0.040,"nl":-0.036,"uh":0.033,"ul":-0.030},
{"t":165.25,"eh":0.045,"el":-0.040,"nh":0.036,"nl":-0.041,"uh":0.030,"ul":-0.034},
{"t":165.5,"eh":0.040,"el":-0.044,"nh":0.041,"nl":-0.038,"uh":0.034,"ul":-0.031},
{"t":165.75,"eh":0.044,"el":-0.042,"nh":0.038,"nl":-0.044,"uh":0.031,"ul":-0.036},
{"t":166,"eh":0.042,"el":-0.038,"nh":0.044,"nl":-0.040,"uh":0.036,"ul":-0.033},
{"t":166.25,"eh":0.038,"el":-0.046,"nh":0.040,"nl":-0.037,"uh":0.033,"ul":-0.030},
{"t":166.5,"eh":0.046,"el":-0.050,"nh":0.037,"nl":-0.043,"uh":0.030,"ul":-0.035},
{"t":166.75,"eh":0.050,"el":-0.039,"nh":0.043,"nl":-0.045,"uh":0.035,"ul":-0.038},
{"t":167,"eh":0.039,"el":-0.047,"nh":0.045,"nl":-0.039,"uh":0.038,"ul":-0.032},
{"t":167.25,"eh":0.047,"el":-0.043,"nh":0.039,"nl":-0.042,"uh":0.032,"ul":-0.036},
{"t":167.5,"eh":0.043,"el":-0.055,"nh":0.042,"nl":-0.048,"uh":0.036,"ul":-0.040},
{"t":167.75,"eh":0.055,"el":-0.062,"nh":0.048,"nl":-0.055,"uh":0.040,"ul":-0.045},
{"t":168,"eh":0.062,"el":-0.134,"nh":0.055,"nl":-0.100,"uh":0.045,"ul":-0.055},
{"t":168.25,"eh":0.134,"el":-0.138,"nh":0.100,"nl":-0.141,"uh":0.055,"ul":-0.077},
{"t":168.5,"eh":0.138,"el":-0.100,"nh":0.141,"nl":-0.129,"uh":0.077,"ul":-0.090},
{"t":168.75,"eh":0.100,"el":-0.140,"nh":0.129,"nl":-0.095,"uh":0.090,"ul":-0.110},
{"t":169,"eh":0.140,"el":-0.110,"nh":0.095,"nl":-0.085,"uh":0.110,"ul":-0.124},
{"t":169.25,"eh":0.110,"el":-0.085,"nh":0.085,"nl":-0.143,"uh":0.124,"ul":-0.080},
{"t":169.5,"eh":0.085,"el":-0.167,"nh":0.143,"nl":-0.120,"uh":0.080,"ul":-0.075},
{"t":169.75,"eh":0.167,"el":-0.1813,"nh":0.120,"nl":-0.085,"uh":0.075,"ul":-0.138},
{"t":170,"eh":0.1813,"el":-0.085,"nh":0.085,"nl":-0.129,"uh":0.138,"ul":-0.115},
{"t":170.25,"eh":0.085,"el":-0.120,"nh":0.129,"nl":-0.141,"uh":0.115,"ul":-0.125},
{"t":170.5,"eh":0.120,"el":-0.155,"nh":0.141,"nl":-0.090,"uh":0.125,"ul":-0.130},
{"t":170.75,"eh":0.155,"el":-0.155,"nh":0.090,"nl":-0.100,"uh":0.130,"ul":-0.139},
{"t":171,"eh":0.155,"el":-0.100,"nh":0.100,"nl":-0.110,"uh":0.139,"ul":-0.080},
{"t":171.25,"eh":0.100,"el":-0.170,"nh":0.110,"nl":-0.143,"uh":0.080,"ul":-0.085},
{"t":171.5,"eh":0.170,"el":-0.173,"nh":0.143,"nl":-0.130,"uh":0.085,"ul":-0.124},
{"t":171.75,"eh":0.173,"el":-0.090,"nh":0.130,"nl":-0.110,"uh":0.124,"ul":-0.131},
{"t":172,"eh":0.090,"el":-0.095,"nh":0.110,"nl":-0.095,"uh":0.131,"ul":-0.124},
{"t":172.25,"eh":0.095,"el":-0.120,"nh":0.095,"nl":-0.090,"uh":0.124,"ul":-0.090},
{"t":172.5,"eh":0.120,"el":-0.134,"nh":0.090,"nl":-0.144,"uh":0.090,"ul":-0.131},
{"t":172.75,"eh":0.134,"el":-0.080,"nh":0.144,"nl":-0.135,"uh":0.131,"ul":-0.1402},
{"t":173,"eh":0.080,"el":-0.090,"nh":0.135,"nl":-0.1472,"uh":0.1402,"ul":-0.113},
{"t":173.25,"eh":0.090,"el":-0.130,"nh":0.1472,"nl":-0.095,"uh":0.113,"ul":-0.123},
{"t":173.5,"eh":0.130,"el":-0.100,"nh":0.095,"nl":-0.100,"uh":0.123,"ul":-0.080},
{"t":173.75,"eh":0.100,"el":-0.085,"nh":0.100,"nl":-0.130,"uh":0.080,"ul":-0.080},
{"t":174,"eh":0.085,"el":-0.145,"nh":0.130,"nl":-0.131,"uh":0.080,"ul":-0.113},
{"t":174.25,"eh":0.145,"el":-0.124,"nh":0.131,"nl":-0.142,"uh":0.113,"ul":-0.123},
{"t":174.5,"eh":0.124,"el":-0.085,"nh":0.142,"nl":-0.085,"uh":0.123,"ul":-0.090},
{"t":174.75,"eh":0.085,"el":-0.095,"nh":0.085,"nl":-0.080,"uh":0.090,"ul":-0.100},
{"t":175,"eh":0.095,"el":-0.091,"nh":0.080,"nl":-0.070,"uh":0.100,"ul":-0.070},
{"t":175.25,"eh":0.091,"el":-0.084,"nh":0.070,"nl":-0.062,"uh":0.070,"ul":-0.085},
{"t":175.5,"eh":0.084,"el":-0.060,"nh":0.062,"nl":-0.055,"uh":0.085,"ul":-0.050},
{"t":175.75,"eh":0.060,"el":-0.055,"nh":0.055,"nl":-0.048,"uh":0.050,"ul":-0.040},
{"t":176,"eh":0.055,"el":-0.048,"nh":0.048,"nl":-0.044,"uh":0.040,"ul":-0.030},
{"t":176.25,"eh":0.048,"el":-0.052,"nh":0.044,"nl":-0.042,"uh":0.030,"ul":-0.035},
{"t":176.5,"eh":0.052,"el":-0.045,"nh":0.042,"nl":-0.040,"uh":0.035,"ul":-0.025},
{"t":176.75,"eh":0.045,"el":-0.050,"nh":0.040,"nl":-0.038,"uh":0.025,"ul":-0.029},
{"t":177,"eh":0.050,"el":-0.042,"nh":0.038,"nl":-0.036,"uh":0.029,"ul":-0.022},
{"t":177.25,"eh":0.042,"el":-0.048,"nh":0.036,"nl":-0.040,"uh":0.022,"ul":-0.028},
{"t":177.5,"eh":0.048,"el":-0.040,"nh":0.040,"nl":-0.035,"uh":0.028,"ul":-0.020},
{"t":177.75,"eh":0.040,"el":-0.035,"nh":0.035,"nl":-0.030,"uh":0.020,"ul":-0.025},
{"t":178,"eh":0.035,"el":-0.030,"nh":0.030,"nl":-0.025,"uh":0.025,"ul":-0.020}
]},
"spacing":44,
"bounds":"flush",
"vconcat":[
{
 "width":920,"height":215,
 "title":{"text":"[ACELERACION] AN.AUDAS.00 / Fecha: 2023-07-06 / Hora: 22:40:10 UTC: -5","fontSize":20,"fontWeight":"normal","font":"DejaVu Sans","color":"#000000","anchor":"middle","frame":"group","baseline":"alphabetic","offset":-19},
 "layer":[
  {"data":{"values":[{}]},"mark":{"type":"text","text":"AN.AUDAS.00.EO","align":"left","baseline":"alphabetic","fontSize":16.67,"color":"#000000"},
   "encoding":{"x":{"datum":-6.94,"type":"quantitative","scale":{"domain":[-8.9,186.8],"nice":false,"zero":false},"axis":{"values":[0,25,50,75,100,125,150,175],"format":"d","title":null}},
               "y":{"datum":0.1564,"type":"quantitative","scale":{"domain":[-0.19,0.2],"nice":false,"zero":false},"axis":{"values":[-0.1,0,0.1,0.2],"format":".1f","title":null}}}},
  {"data":{"values":[{}]},"mark":{"type":"text","text":"PGA: 0.1813 cm/s2","align":"right","baseline":"alphabetic","fontSize":16.67,"color":"#000000"},
   "encoding":{"x":{"datum":182.9,"type":"quantitative","scale":{"domain":[-8.9,186.8],"nice":false,"zero":false},"axis":{"values":[0,25,50,75,100,125,150,175],"format":"d","title":null}},
               "y":{"datum":0.1564,"type":"quantitative","scale":{"domain":[-0.19,0.2],"nice":false,"zero":false},"axis":{"values":[-0.1,0,0.1,0.2],"format":".1f","title":null}}}},
  {"data":{"name":"wave"},"mark":{"type":"area","color":"#0000ff","stroke":"#0000ff","strokeWidth":0.6,"interpolate":"linear"},
   "encoding":{"x":{"field":"t","type":"quantitative","scale":{"domain":[-8.9,186.8],"nice":false,"zero":false},"axis":{"values":[0,25,50,75,100,125,150,175],"format":"d","title":null}},
               "y":{"field":"eh","type":"quantitative","scale":{"domain":[-0.19,0.2],"nice":false,"zero":false},"axis":{"values":[-0.1,0,0.1,0.2],"format":".1f","title":null}},
               "y2":{"field":"el"}}}
 ]
},
{
 "width":920,"height":215,
 "layer":[
  {"data":{"values":[{}]},"mark":{"type":"text","text":"AN.AUDAS.00.NS","align":"left","baseline":"alphabetic","fontSize":16.67,"color":"#000000"},
   "encoding":{"x":{"datum":-6.94,"type":"quantitative","scale":{"domain":[-8.9,186.8],"nice":false,"zero":false},"axis":{"values":[0,25,50,75,100,125,150,175],"format":"d","title":null}},
               "y":{"datum":0.1217,"type":"quantitative","scale":{"domain":[-0.161,0.157],"nice":false,"zero":false},"axis":{"values":[-0.1,0,0.1],"format":".1f","title":"Aceleracion [cm/s2]","titleX":-62.5,"titleBaseline":"alphabetic"}}}},
  {"data":{"values":[{}]},"mark":{"type":"text","text":"PGA: -0.1472 cm/s2","align":"right","baseline":"alphabetic","fontSize":16.67,"color":"#000000"},
   "encoding":{"x":{"datum":182.9,"type":"quantitative","scale":{"domain":[-8.9,186.8],"nice":false,"zero":false},"axis":{"values":[0,25,50,75,100,125,150,175],"format":"d","title":null}},
               "y":{"datum":0.1217,"type":"quantitative","scale":{"domain":[-0.161,0.157],"nice":false,"zero":false},"axis":{"values":[-0.1,0,0.1],"format":".1f","title":"Aceleracion [cm/s2]","titleX":-62.5,"titleBaseline":"alphabetic"}}}},
  {"data":{"name":"wave"},"mark":{"type":"area","color":"#008000","stroke":"#008000","strokeWidth":0.6,"interpolate":"linear"},
   "encoding":{"x":{"field":"t","type":"quantitative","scale":{"domain":[-8.9,186.8],"nice":false,"zero":false},"axis":{"values":[0,25,50,75,100,125,150,175],"format":"d","title":null}},
               "y":{"field":"nh","type":"quantitative","scale":{"domain":[-0.161,0.157],"nice":false,"zero":false},"axis":{"values":[-0.1,0,0.1],"format":".1f","title":"Aceleracion [cm/s2]","titleX":-62.5,"titleBaseline":"alphabetic"}},
               "y2":{"field":"nl"}}}
 ]
},
{
 "width":920,"height":215,
 "layer":[
  {"data":{"values":[{}]},"mark":{"type":"text","text":"AN.AUDAS.00.UD","align":"left","baseline":"alphabetic","fontSize":16.67,"color":"#000000"},
   "encoding":{"x":{"datum":-6.94,"type":"quantitative","scale":{"domain":[-8.9,186.8],"nice":false,"zero":false},"axis":{"values":[0,25,50,75,100,125,150,175],"format":"d","title":"Tiempo [s]","titleY":43,"titleBaseline":"alphabetic"}},
               "y":{"datum":0.1187,"type":"quantitative","scale":{"domain":[-0.147,0.152],"nice":false,"zero":false},"axis":{"values":[-0.1,-0.05,0,0.05,0.1,0.15],"format":".2f","title":null}}}},
  {"data":{"values":[{}]},"mark":{"type":"text","text":"PGA: 0.1402 cm/s2","align":"right","baseline":"alphabetic","fontSize":16.67,"color":"#000000"},
   "encoding":{"x":{"datum":182.9,"type":"quantitative","scale":{"domain":[-8.9,186.8],"nice":false,"zero":false},"axis":{"values":[0,25,50,75,100,125,150,175],"format":"d","title":"Tiempo [s]","titleY":43,"titleBaseline":"alphabetic"}},
               "y":{"datum":0.1187,"type":"quantitative","scale":{"domain":[-0.147,0.152],"nice":false,"zero":false},"axis":{"values":[-0.1,-0.05,0,0.05,0.1,0.15],"format":".2f","title":null}}}},
  {"data":{"values":[{}]},"mark":{"type":"text","text":"Filtro pasa banda (0.1~25 Hz)","align":"right","baseline":"alphabetic","fontSize":16.67,"color":"#000000"},
   "encoding":{"x":{"datum":187.55,"type":"quantitative","scale":{"domain":[-8.9,186.8],"nice":false,"zero":false},"axis":{"values":[0,25,50,75,100,125,150,175],"format":"d","title":"Tiempo [s]","titleY":43,"titleBaseline":"alphabetic"}},
               "y":{"datum":-0.2066,"type":"quantitative","scale":{"domain":[-0.147,0.152],"nice":false,"zero":false},"axis":{"values":[-0.1,-0.05,0,0.05,0.1,0.15],"format":".2f","title":null}}}},
  {"data":{"name":"wave"},"mark":{"type":"area","color":"#ff0000","stroke":"#ff0000","strokeWidth":0.6,"interpolate":"linear"},
   "encoding":{"x":{"field":"t","type":"quantitative","scale":{"domain":[-8.9,186.8],"nice":false,"zero":false},"axis":{"values":[0,25,50,75,100,125,150,175],"format":"d","title":"Tiempo [s]","titleY":43,"titleBaseline":"alphabetic"}},
               "y":{"field":"uh","type":"quantitative","scale":{"domain":[-0.147,0.152],"nice":false,"zero":false},"axis":{"values":[-0.1,-0.05,0,0.05,0.1,0.15],"format":".2f","title":null}},
               "y2":{"field":"ul"}}}
 ]
}
]
}
